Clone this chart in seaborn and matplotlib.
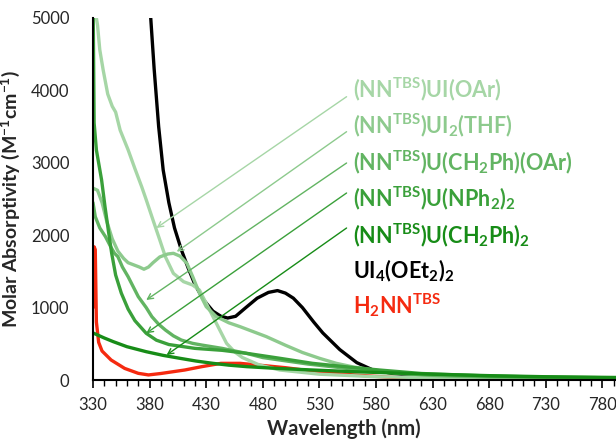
import numpy as np
import pandas as pd
import matplotlib
matplotlib.use("Agg")
import matplotlib.pyplot as plt
import seaborn as sns

# ---------------- data ----------------
uioar_wl = [330, 332, 334, 336, 339, 343, 347, 350, 354, 361, 367, 373, 377, 383, 389, 394,
            401, 410, 418, 424, 430, 436, 442, 448, 455, 462, 477, 495, 530, 580, 650, 720, 792]
uioar_abs = [5400, 5100, 4900, 4560, 4280, 3950, 3780, 3700, 3450, 3180, 2920, 2670, 2490, 2210, 1934, 1700,
             1473, 1358, 1312, 1243, 1059, 875, 690, 506, 390, 310, 207, 138, 80, 45, 25, 15, 10]

uithf_wl = [330, 334, 338, 342, 347, 352, 357, 361, 366, 371, 375, 379, 383, 389, 396, 401, 407, 413,
            418, 424, 430, 439, 450, 460, 483, 500, 515, 530, 545, 560, 577, 600, 630, 680, 730, 792]
uithf_abs = [2650, 2620, 2450, 2200, 1950, 1780, 1680, 1620, 1590, 1560, 1530, 1560, 1620, 1700, 1740, 1750, 1710, 1610,
             1430, 1200, 1013, 875, 790, 736, 600, 480, 380, 300, 230, 180, 140, 95, 60, 35, 25, 15]

bzoar_wl = [330, 332, 336, 341, 346, 349, 352, 356, 361, 370, 377, 382, 388, 394, 401, 408, 418, 426,
            444, 451, 465, 480, 495, 520, 554, 580, 595, 630, 680, 730, 792]
bzoar_abs = [2450, 2256, 2100, 1980, 1830, 1750, 1703, 1560, 1427, 1151, 1000, 875, 770, 690, 610, 552, 506, 483,
             437, 414, 370, 310, 276, 220, 161, 120, 97, 65, 45, 35, 25]

nph2_wl = [330, 331, 333, 337.6, 340.6, 343.5, 346.5, 350, 355, 361, 367, 377, 386, 397, 420, 444, 466,
           495, 524, 555, 583, 620, 680, 730, 792]
nph2_abs = [5400, 3550, 3177, 2762, 2394, 2072, 1750, 1450, 1200, 980, 820, 645, 550, 490, 437, 410, 368,
            300, 230, 180, 138, 90, 55, 40, 30]

bz2_wl = [330, 340, 348, 360, 377, 392, 407, 421, 436, 450, 466, 495, 524, 560, 595, 630, 680, 730, 792]
bz2_abs = [650, 580, 529, 460, 391, 340, 299, 262, 230, 205, 184, 158, 138, 115, 97, 80, 60, 45, 35]

ui4_wl = [375, 378, 381, 384, 388, 392, 397, 402, 408, 414, 420, 428, 436, 443, 449, 456, 465, 475, 485,
          493, 500, 507, 515, 525, 533, 548, 563, 577, 595, 620, 700, 792]
ui4_abs = [6500, 5600, 5000, 4300, 3500, 2900, 2450, 2100, 1800, 1550, 1320, 1100, 950, 880, 856, 880, 1000,
           1130, 1210, 1235, 1200, 1130, 1000, 800, 650, 420, 240, 140, 90, 50, 30, 20]

h2nn_wl = [330, 331, 332, 333, 335, 338, 346, 358, 370, 379, 390, 411, 426, 443, 460, 480, 500, 530,
           560, 590, 620, 700, 792]
h2nn_abs = [1000, 1840, 1800, 800, 520, 400, 276, 160, 92, 70, 90, 138, 184, 230, 230, 200, 170, 110,
            70, 40, 20, 10, 5]

labels = [r"(NN$^{\mathregular{TBS}}$)UI(OAr)",
          r"(NN$^{\mathregular{TBS}}$)UI$_{\mathregular{2}}$(THF)",
          r"(NN$^{\mathregular{TBS}}$)U(CH$_{\mathregular{2}}$Ph)(OAr)",
          r"(NN$^{\mathregular{TBS}}$)U(NPh$_{\mathregular{2}}$)$_{\mathregular{2}}$",
          r"(NN$^{\mathregular{TBS}}$)U(CH$_{\mathregular{2}}$Ph)$_{\mathregular{2}}$",
          r"UI$_{\mathregular{4}}$(OEt$_{\mathregular{2}}$)$_{\mathregular{2}}$",
          r"H$_{\mathregular{2}}$NN$^{\mathregular{TBS}}$"]
colors = ["#a6d6a6", "#8dca8d", "#62b462", "#3aa03a", "#178c17", "#000000", "#f52a10"]

# arrow tips (wavelength, absorptivity) on the curves
arrow_tip_wl = [386, 404, 377, 377, 395]
arrow_tip_abs = [2100, 1772, 1105, 645, 345]

x_ticks = [330, 380, 430, 480, 530, 580, 630, 680, 730, 780]
y_ticks = [0, 1000, 2000, 3000, 4000, 5000]

# ---------------- plotting ----------------
sns.set_theme(style="white")
plt.rcParams["font.family"] = ["Lato", "DejaVu Sans"]
plt.rcParams["mathtext.fontset"] = "custom"
plt.rcParams["mathtext.rm"] = "Lato:bold"
plt.rcParams["mathtext.it"] = "Lato:bold"
plt.rcParams["mathtext.bf"] = "Lato:bold"

fig = plt.figure(figsize=(6.16, 4.40), dpi=100)
ax = fig.add_axes([93 / 616, 1 - 380 / 440, 1 - 93 / 616, (380 - 18) / 440])

series = [
    (h2nn_wl, h2nn_abs, colors[6]),
    (ui4_wl, ui4_abs, colors[5]),
    (uioar_wl, uioar_abs, colors[0]),
    (uithf_wl, uithf_abs, colors[1]),
    (bzoar_wl, bzoar_abs, colors[2]),
    (nph2_wl, nph2_abs, colors[3]),
    (bz2_wl, bz2_abs, colors[4]),
]
for wl, ab, c in series:
    df = pd.DataFrame({"wl": wl, "abs": ab})
    sns.lineplot(data=df, x="wl", y="abs", color=c, linewidth=2.4, ax=ax, sort=False)

ax.set_xlim(330, 792)
ax.set_ylim(0, 5000)
ax.set_xticks(x_ticks)
ax.set_xticks(np.arange(330, 792, 10), minor=True)
ax.set_yticks(y_ticks)
ax.tick_params(axis="x", which="major", direction="out", length=6, width=1.2, color="black",
               labelsize=12, pad=6, bottom=True)
ax.tick_params(axis="x", which="minor", direction="out", length=4, width=1.0, color="black", bottom=True)
ax.tick_params(axis="y", which="major", length=0, labelsize=12, pad=17)
for s in ["top", "right"]:
    ax.spines[s].set_visible(False)
for s in ["left", "bottom"]:
    ax.spines[s].set_color("black")
    ax.spines[s].set_linewidth(1.5)

ax.set_xlabel("Wavelength (nm)", fontsize=14.5, fontweight="bold")
ax.set_ylabel(r"Molar Absorptivity (M$^{\mathregular{-1}}$cm$^{\mathregular{-1}}$)", fontsize=14,
              fontweight="bold")
ax.xaxis.set_label_coords(0.48, -0.105)
ax.yaxis.set_label_coords(-0.135, 0.5)

# labels
baselines_px = [97, 133, 170, 206, 243, 278, 313]
for lab, c, bp in zip(labels, colors, baselines_px):
    yv = (380 - bp) / 362 * 5000
    ax.text(560, yv, lab, color=c, fontsize=15.5, fontweight="bold", va="baseline", ha="left")

# arrows
arrow_start_px = [96.7, 131.7, 163, 193, 228]
for i in range(5):
    ys = (380 - arrow_start_px[i]) / 362 * 5000
    ax.annotate("", xy=(arrow_tip_wl[i], arrow_tip_abs[i]), xytext=(554, ys),
                arrowprops=dict(arrowstyle="->", color=colors[i], lw=1.0, shrinkA=0, shrinkB=0,
                                mutation_scale=10))

fig.savefig("out.png", dpi=100)
